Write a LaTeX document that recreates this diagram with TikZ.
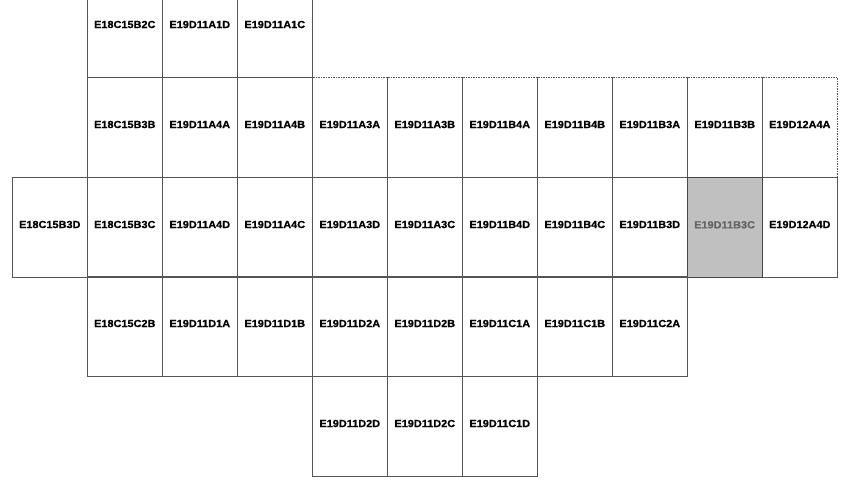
\documentclass[tikz,border=0pt]{standalone}
\usepackage{fontspec}
\newfontfamily\cellfont[FakeStretch=1.06,FakeBold=0.8]{Liberation Sans}
\definecolor{linegray}{RGB}{85,85,85}
\definecolor{shade}{RGB}{192,192,192}
\definecolor{shadeline}{RGB}{70,70,70}
\definecolor{shadetext}{RGB}{100,100,100}
\tikzset{
  cell/.style={draw=linegray, line width=0.6pt, minimum width=75pt, minimum height=100pt,
    inner sep=0pt, anchor=north west, text height=7.5pt, text depth=6pt,
    font=\cellfont\bfseries\fontsize{10.3}{12}\selectfont, text=black},
  dcell/.style={cell, dash pattern=on 1.5pt off 1pt},
  hcell/.style={cell, fill=shade, draw=shadeline, line width=1.2pt, text=shadetext}
}
\begin{document}
\begin{tikzpicture}[x=1pt,y=-1pt]
\useasboundingbox (0,0) rectangle (849,489);
\begin{scope}
\clip (0,0) rectangle (849,489);
% row 0 (cut off at the top)
\foreach \c/\t in {1/E18C15B2C,2/E19D11A1D,3/E19D11A1C}
  \node[cell] (r0c\c) at ({12+75*\c},-23) {\t};
% row 1
\foreach \c/\t in {1/E18C15B3B,2/E19D11A4A,3/E19D11A4B}
  \node[cell] (r1c\c) at ({12+75*\c},77) {\t};
\foreach \c/\t in {4/E19D11A3A,5/E19D11A3B,6/E19D11B4A,7/E19D11B4B,8/E19D11B3A,9/E19D11B3B,10/E19D12A4A}
  \node[dcell] (r1c\c) at ({12+75*\c},77) {\t};
% row 2
\foreach \c/\t in {0/E18C15B3D,1/E18C15B3C,2/E19D11A4D,3/E19D11A4C,4/E19D11A3D,5/E19D11A3C,6/E19D11B4D,7/E19D11B4C,8/E19D11B3D,10/E19D12A4D}
  \node[cell] (r2c\c) at ({12+75*\c},177) {\t};
\node[hcell] (r2c9) at (686.5,177) {E19D11B3C};
% row 3
\foreach \c/\t in {1/E18C15C2B,2/E19D11D1A,3/E19D11D1B,4/E19D11D2A,5/E19D11D2B,6/E19D11C1A,7/E19D11C1B,8/E19D11C2A}
  \node[cell] (r3c\c) at ({12+75*\c},276) {\t};
% row 4
\foreach \c/\t in {4/E19D11D2D,5/E19D11D2C,6/E19D11C1D}
  \node[cell] (r4c\c) at ({12+75*\c},376) {\t};
\end{scope}
\end{tikzpicture}
\end{document}
